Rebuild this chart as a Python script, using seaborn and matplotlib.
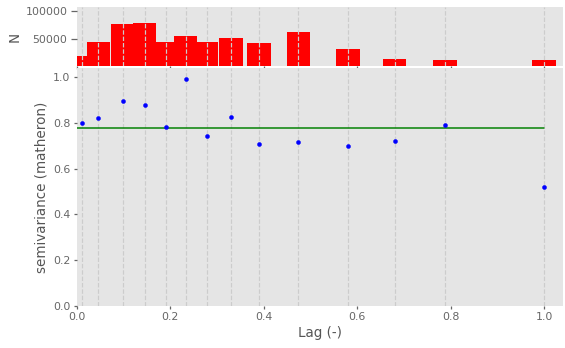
import matplotlib
matplotlib.use('Agg')
import matplotlib.pyplot as plt
import seaborn as sns

# Данные вариограммы
bins = [0.01, 0.046, 0.098, 0.145, 0.19, 0.233, 0.278, 0.33, 0.39, 0.474, 0.58, 0.68, 0.788, 1.0]
semivariance = [0.800, 0.820, 0.897, 0.878, 0.783, 0.993, 0.744, 0.825, 0.709, 0.715, 0.699, 0.719, 0.792, 0.521]
counts = [18300, 44500, 76900, 79300, 44500, 55500, 44500, 50700, 41500, 61700, 30500, 12800, 10400, 10400]
model_x = [0.0, 1.0]
model_y = [0.779, 0.779]

sns.set_theme(style='ticks', rc={
    'axes.facecolor': '#E5E5E5',
    'axes.edgecolor': 'white',
    'axes.grid': False,
    'axes.labelcolor': '#555555',
    'xtick.color': '#666666',
    'ytick.color': '#666666',
    'xtick.direction': 'out',
    'ytick.direction': 'out',
    'font.size': 10,
})
plt.rcParams['font.family'] = ['DejaVu Sans']

fig = plt.figure(figsize=(565 / 72, 348 / 72), dpi=72)
ax2 = fig.add_axes([0.136, 0.810, 0.86, 0.170])
ax1 = fig.add_axes([0.136, 0.121, 0.86, 0.684], sharex=ax2)

for ax in (ax1, ax2):
    for s in ax.spines.values():
        s.set_visible(False)

# Гистограмма числа пар
w = max(bins) * 0.7 / len(bins)
ax2.bar(bins, counts, width=w, align='center', color='red', linewidth=0)
ax2.set_ylim(0, 108000)
ax2.set_yticks([50000, 100000])
ax2.set_ylabel('N', fontsize=13.5)
ax2.tick_params(axis='x', labelbottom=False, length=3)
ax2.vlines(bins, 0, 108000, colors=(.8, .8, .8), linestyles='dashed', linewidth=1.2)

# Экспериментальная вариограмма и модель
sns.scatterplot(x=bins, y=semivariance, ax=ax1, color='blue', s=16, edgecolor='blue', linewidth=0.5, zorder=3)
sns.lineplot(x=model_x, y=model_y, ax=ax1, color='green', linewidth=1.5, zorder=2)
ax1.vlines(bins, 0, 1.04, colors=(.8, .8, .8), linestyles='dashed', linewidth=1.2, zorder=1)
ax1.set_ylim(0, 1.04)
ax1.set_xlim(0, 1.04)
ax1.set_xticks([0.0, 0.2, 0.4, 0.6, 0.8, 1.0])
ax1.set_yticks([0.0, 0.2, 0.4, 0.6, 0.8, 1.0])
ax1.set_xlabel('Lag (-)', fontsize=13.5)
ax1.set_ylabel('semivariance (matheron)', fontsize=13.5)
ax1.tick_params(length=3)

fig.savefig('out.png', dpi=72)
